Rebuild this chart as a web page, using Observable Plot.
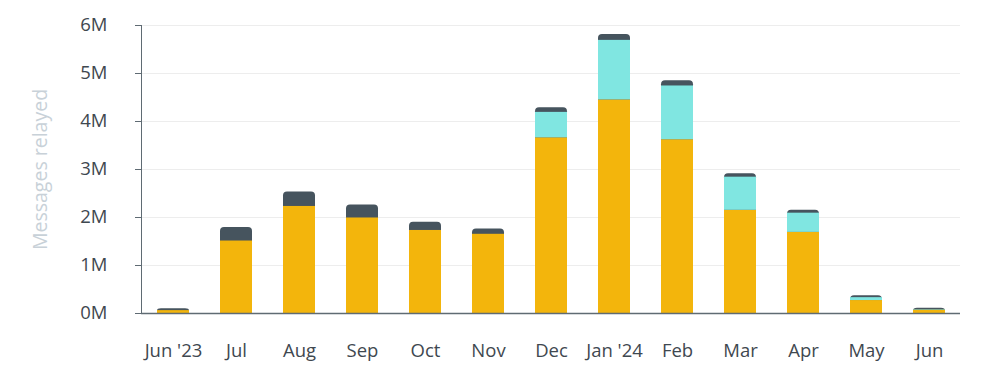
<!DOCTYPE html>
<html>
<head>
<meta charset="utf-8">
<script src="https://cdn.jsdelivr.net/npm/d3@7"></script>
<script src="https://cdn.jsdelivr.net/npm/@observablehq/plot@0.6"></script>
<style>
  html, body { margin: 0; padding: 0; background: #fff; }
  #chart svg { display: block; }
</style>
</head>
<body>
<div id="chart"></div>
<script>
// Months (category labels)
const months = ["Jun '23", "Jul", "Aug", "Sep", "Oct", "Nov", "Dec", "Jan '24", "Feb", "Mar", "Apr", "May", "Jun"];
// Messages relayed, in millions, per segment (bottom to top)
const primary   = [0.06, 1.51, 2.23, 1.99, 1.73, 1.65, 3.66, 4.45, 3.62, 2.15, 1.69, 0.27, 0.07];
const secondary = [0.00, 0.00, 0.00, 0.00, 0.00, 0.00, 0.53, 1.24, 1.12, 0.69, 0.40, 0.06, 0.01];
const other     = [0.04, 0.28, 0.30, 0.27, 0.17, 0.11, 0.095, 0.12, 0.11, 0.07, 0.06, 0.04, 0.03];
const yTicks = [0, 1, 2, 3, 4, 5, 6];

const stacked = [];
months.forEach((m, i) => {
  stacked.push({month: m, series: "primary", value: primary[i]});
  stacked.push({month: m, series: "secondary", value: secondary[i]});
});
const totals = months.map((m, i) => ({month: m, total: primary[i] + secondary[i] + other[i]}));

const font = "'Open Sans', sans-serif";

const chart = Plot.plot({
  width: 1000,
  height: 371,
  marginLeft: 141,
  marginRight: 40,
  marginTop: 25,
  marginBottom: 58,
  style: {fontFamily: font, fontSize: "18.5px", color: "#3f4850", background: "#fff"},
  x: {domain: months, paddingInner: 0.5, paddingOuter: 0.25, label: null},
  y: {domain: [0, 6], label: null},
  color: {domain: ["primary", "secondary"], range: ["#F3B50C", "#80E6E1"]},
  marks: [
    Plot.gridY(yTicks, {stroke: "#ededed", strokeOpacity: 1}),
    Plot.barY(totals, {x: "month", y: "total", fill: "#46545E", rx: 4}),
    Plot.barY(stacked, {x: "month", y: "value", fill: "series", order: ["primary", "secondary"]}),
    Plot.axisY(yTicks, {tickSize: 6, tickPadding: 28, tickFormat: d => d + "M", stroke: "#5f6b73", fill: "#3f4850", fontSize: 18.5,
      label: "Messages relayed", labelAnchor: "center", labelArrow: "none", labelOffset: 108}),
    Plot.axisX({tickSize: 0, tickPadding: 30, fill: "#3f4850", fontSize: 18.5, label: null}),
    Plot.frame({anchor: "left", stroke: "#5f6b73"}),
    Plot.ruleY([0], {stroke: "#5f6b73", strokeWidth: 1.5})
  ]
});
document.getElementById("chart").appendChild(chart);
// style y-axis title
d3.select(chart).selectAll("[aria-label='y-axis label'] text").attr("fill", "#c8d1d8").style("font-size", "19.5px");
</script>
</body>
</html>
